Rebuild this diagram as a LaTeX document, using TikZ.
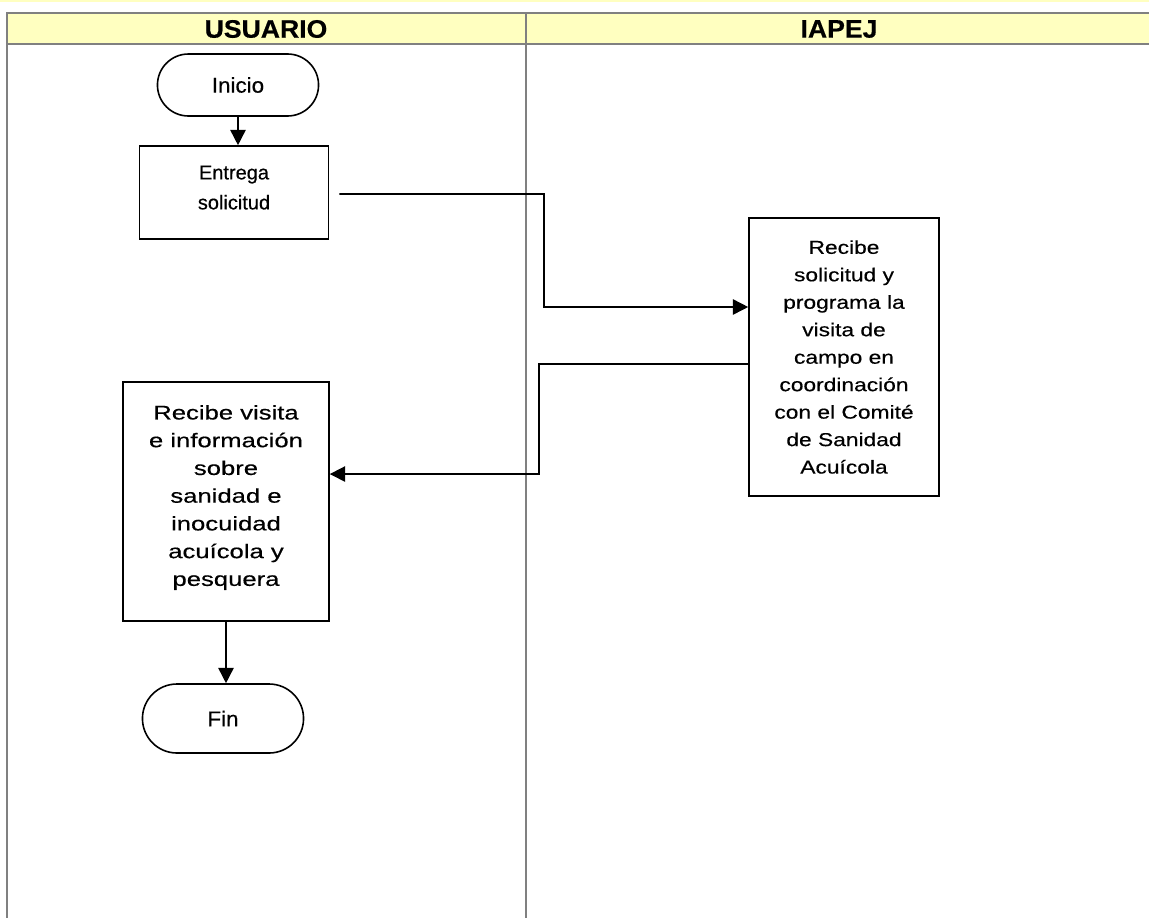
\documentclass[tikz,border=0pt]{standalone}
\usepackage{fontspec}
\setmainfont{Liberation Sans}
\newfontfamily\encfont[FakeStretch=1.05,FakeBold=0.4]{Liberation Sans}
\newfontfamily\rectofont[FakeBold=0.4]{Liberation Sans}
\newfontfamily\anchafont[FakeStretch=1.22,FakeBold=0.4]{Liberation Sans}
\newfontfamily\muyanchafont[FakeStretch=1.3,FakeBold=0.4]{Liberation Sans}
\usetikzlibrary{shapes.misc,arrows.meta}
\definecolor{amarillo}{RGB}{255,255,192}
\definecolor{gris}{RGB}{128,128,128}
\tikzset{
  carril/.style={draw=gris, line width=1.5pt},
  titulo/.style={font=\encfont\bfseries\fontsize{19}{22}\selectfont},
  terminal/.style={draw, line width=1.2pt, rounded rectangle, minimum width=127.5pt, minimum height=46.5pt, font=\encfont\fontsize{16}{18}\selectfont},
  proceso/.style={draw, line width=1.2pt, rectangle, align=center, inner sep=0pt},
  flecha/.style={line width=1.2pt, -{Triangle[length=11.5pt,width=11.5pt]}}
}

\begin{document}
\begin{tikzpicture}[x=0.75pt,y=-0.75pt]
\useasboundingbox (0,0) rectangle (1149,918);
\fill[amarillo] (0,0) rectangle (1149,1.5);
\fill[amarillo] (7,13) rectangle (1149,44);
\draw[carril] (1149,13) -- (7,13) -- (7,918);
\draw[carril] (7,44) -- (1149,44);
\draw[carril] (526,13) -- (526,918);
\node[titulo] (usuario) at (266,29) {USUARIO};
\node[titulo] (iapej) at (839,29) {IAPEJ};

\node[terminal] (inicio) at (238,85) {Inicio};
\node[proceso, minimum width=141.75pt, minimum height=69.75pt, font=\rectofont\fontsize{15}{22.5}\selectfont] (entrega) at (234,192.5) {Entrega\\solicitud\\[-15pt]};
\node[proceso, minimum width=142.5pt, minimum height=208.5pt, font=\anchafont\fontsize{14}{20.6}\selectfont] (recibe) at (844,357) {Recibe\\solicitud y\\programa la\\visita de\\campo en\\coordinación\\con el Comité\\de Sanidad\\Acuícola};
\node[proceso, minimum width=154.5pt, minimum height=179.25pt, font=\muyanchafont\fontsize{14.8}{20.8}\selectfont] (visita) at (226,501.5) {Recibe visita\\e información\\sobre\\sanidad e\\inocuidad\\acuícola y\\pesquera\\[-11.8pt]};
\node[terminal, minimum height=51.75pt] (fin) at (223,718.5) {Fin};

\draw[flecha] (inicio.south) -- (inicio.south |- entrega.north);
\draw[flecha] ([xshift=7.5pt,yshift=-1.1pt]entrega.east) -- (544,194) |- ([yshift=37.5pt]recibe.west);
\draw[flecha] ([yshift=-5.25pt]recibe.west) -| (539,474) -- ([yshift=20.6pt]visita.east);
\draw[flecha] (visita.south) -- (visita.south |- fin.north);
\end{tikzpicture}
\end{document}
